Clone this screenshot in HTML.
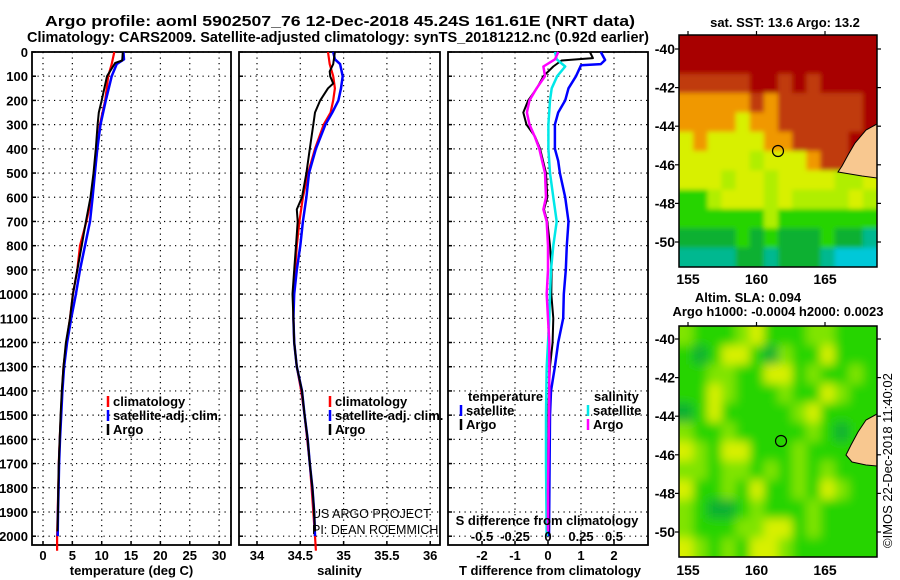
<!DOCTYPE html>
<html><head><meta charset="utf-8"><style>
html,body{margin:0;padding:0;background:#fff;}
svg{display:block;font-family:"Liberation Sans",sans-serif;}
.b{font-weight:bold;font-size:13px;}
</style></head><body>
<svg id="fig" width="900" height="580" viewBox="0 0 900 580" xmlns="http://www.w3.org/2000/svg">
<defs>
<filter id="blur2" x="-5%" y="-5%" width="110%" height="110%"><feGaussianBlur stdDeviation="2.5"/></filter>
<filter id="blur4" x="-5%" y="-5%" width="110%" height="110%"><feGaussianBlur stdDeviation="5"/></filter>
</defs>
<text x="340" y="26" text-anchor="middle" font-weight="bold" font-size="15" textLength="590" lengthAdjust="spacingAndGlyphs">Argo profile: aoml 5902507_76 12-Dec-2018 45.24S 161.61E (NRT data)</text>
<text x="338" y="42" text-anchor="middle" font-weight="bold" font-size="15" textLength="622" lengthAdjust="spacingAndGlyphs">Climatology: CARS2009. Satellite-adjusted climatology: synTS_20181212.nc (0.92d earlier)</text>
<g id="p1"></g>
<g id="p2"></g>
<g id="p3"></g>
<g id="m1"></g>
<g id="m2"></g>
<text x="785" y="27" text-anchor="middle" class="b">sat. SST: 13.6 Argo: 13.2</text>
<text x="748" y="302" text-anchor="middle" class="b">Altim. SLA: 0.094</text>
<text x="778" y="316" text-anchor="middle" class="b">Argo h1000: -0.0004 h2000: 0.0023</text>
<text transform="translate(892,548) rotate(-90)" font-size="13">©IMOS 22-Dec-2018 11:40:02</text>
<text x="312" y="518" font-size="12.5">US ARGO PROJECT</text>
<text x="312" y="534" font-size="12.5">PI: DEAN ROEMMICH</text>
</svg>
<script>
// ---------- data ----------
const depthTicks=[0,100,200,300,400,500,600,700,800,900,1000,1100,1200,1300,1400,1500,1600,1700,1800,1900,2000];
const tTicks=[0,5,10,15,20,25,30];
const sTicks=[34,34.5,35,35.5,36];
const sTickLabels=["34","34.5","35","35.5","36"];
const dtTicks=[-2,-1,0,1,2];
const dsTicks=[-0.5,-0.25,0,0.25,0.5];
const dsTickLabels=["-0.5","-0.25","0","0.25","0.5"];

const tempArgoDepth=[0,35,45,100,200,250,300,400,500,600,700,800,900,1000,1100,1200,1300,1400,1500,1600,1700,1800,1900,1980];
const tempArgo=[13.6,13.5,12.3,10.9,10.0,9.5,9.3,9.0,8.6,8.1,7.3,6.6,5.85,5.1,4.6,3.9,3.5,3.2,3.0,2.85,2.7,2.6,2.55,2.45];
const tempClimDepth=[0,50,100,200,300,400,500,600,700,800,900,1000,1100,1200,1300,1400,1500,1600,1700,1800,1900,2000,2060];
const tempClim=[12.15,11.7,11.1,10.6,9.7,9.25,8.8,8.3,7.4,6.3,5.85,5.1,4.6,4.0,3.5,3.25,3.05,2.85,2.7,2.6,2.5,2.4,2.4];
const tempSatDepth=[0,30,50,100,200,300,400,500,600,700,800,900,1000,1100,1200,1300,1400,1500,1600,1700,1800,1900,2000];
const tempSat=[13.7,13.8,12.55,11.7,10.7,9.8,9.25,8.85,8.45,8.0,7.15,6.3,5.6,4.8,4.1,3.6,3.3,3.1,2.9,2.75,2.65,2.55,2.5];

const salArgoDepth=[0,50,80,100,130,150,200,250,300,400,500,600,650,700,800,900,1000,1100,1200,1300,1400,1500,1600,1700,1800,1900,1980];
const salArgo=[34.90,34.88,34.84,34.845,34.88,34.82,34.73,34.67,34.65,34.61,34.57,34.52,34.46,34.47,34.45,34.43,34.41,34.42,34.43,34.46,34.52,34.55,34.585,34.61,34.64,34.66,34.67];
const salClimDepth=[0,50,100,150,200,250,300,400,500,600,700,800,900,1000,1100,1200,1300,1400,1500,1600,1700,1800,1900,2000,2060];
const salClim=[34.82,34.84,34.88,34.90,34.88,34.85,34.77,34.67,34.59,34.53,34.49,34.46,34.44,34.42,34.42,34.43,34.46,34.51,34.55,34.58,34.61,34.63,34.65,34.67,34.68];
const salSatDepth=[0,30,50,100,150,200,250,300,400,500,600,700,800,900,1000,1100,1200,1300,1400,1500,1600,1700,1800,1900,2000];
const salSat=[34.88,34.90,34.96,34.99,34.97,34.94,34.87,34.79,34.68,34.60,34.57,34.53,34.50,34.46,34.43,34.42,34.43,34.46,34.52,34.55,34.585,34.61,34.64,34.66,34.67];

const dTSatDepth=[0,33,50,55,100,150,200,250,300,400,450,500,600,700,800,900,1000,1100,1200,1300,1400,1500,1700,2000];
const dTSat=[1.6,1.73,1.6,1.0,0.85,0.62,0.52,0.31,0.21,0.21,0.31,0.36,0.52,0.62,0.57,0.54,0.48,0.46,0.31,0.21,0.09,0.06,0.05,0.03];
const dTArgoDepth=[0,25,35,60,100,150,200,250,300,350,400,500,600,650,700,800,900,1000,1100,1200,1300,1400,1500,1700,1980];
const dTArgo=[1.27,1.36,0.41,0.16,-0.14,-0.34,-0.6,-0.75,-0.65,-0.39,-0.24,-0.06,-0.02,-0.12,-0.02,0.06,0.11,0.1,0.16,0.14,0.06,0.03,0.01,0.0,0.02];
const dSSatDepth=[0,30,60,100,150,200,300,400,500,600,700,800,900,1000,1100,1300,1500,1700,2000];
const dSSat=[0.053,0.066,0.13,0.07,0.028,0.015,0.003,0.003,0.015,0.04,0.066,0.04,0.023,0.015,0.01,-0.01,-0.015,-0.015,-0.01];
const dSArgoDepth=[0,30,60,100,150,200,250,300,350,400,500,600,650,700,800,900,1000,1200,1400,1600,1800,1980];
const dSArgo=[0.078,0.053,-0.035,-0.023,-0.086,-0.14,-0.16,-0.14,-0.1,-0.066,-0.023,-0.015,-0.035,-0.01,0,0,-0.01,0.01,0.01,0.005,0.0,0.0];

const mapLonTicks=[155,160,165];
const mapLatTicks=[-40,-42,-44,-46,-48,-50];
const sstRows=[
"RRRRRRRRRRRRRR",
"RRRRRRRRRRRRRR",
"BBBBBRRBRBRRRR",
"OOOOOBOBBBBBBR",
"OOOOYOOBBBBBBR",
"YOYYYYOOBBBBRR",
"YYYYYgYYYOBBRR",
"YYYgYYgYYYYggY",
"GGgYYYgYggggYg",
"GGGGGGgGGGGGGG",
"DDDDGDGDDDGDDT",
"TTTTDDTDDDTCCC"];
const slaRows=[
"MGGGMYGGGMMGGG",
"GDGYYGDMGGYGGG",
"GGMMGGYYGMGGMG",
"GGYMGGGMGGYMGG",
"DGYGGGGGMYGGGG",
"MGGMGGGGGMGDGG",
"YMGYYGGGMGGGGG",
"MMGMMGMGMGMGGG",
"YGGMGYGGMGYMGG",
"MGDDGMGGGMGGGG",
"MGGGMMYYGMGGGG",
"YMGMGYYMGGGGGG"];
const colors={R:"#a80000",B:"#c03a08",O:"#f09800",Y:"#d8f000",g:"#b0ee00",G:"#28d400",D:"#10b030",T:"#00b890",C:"#00c8d8",M:"#80e400"};

// ---------- helpers ----------
const NS="http://www.w3.org/2000/svg";
function mk(parent,tag,attrs,text){const e=document.createElementNS(NS,tag);for(const k in attrs)e.setAttribute(k,attrs[k]);if(text!==undefined)e.textContent=text;parent.appendChild(e);return e;}
const top0=52,bot=545;
const yD=d=>top0+d*0.2421;

function panel(g,x0,x1,xs,ticks,labels,xTitle,showY,xName){
  ticks.forEach(t=>{const l=mk(g,"line",{x1:xs(t),x2:xs(t),y1:top0,y2:bot,stroke:"#000","stroke-width":1.2,"stroke-dasharray":"1.2 4.3"});
    });
  depthTicks.forEach(d=>{const l=mk(g,"line",{x1:x0,x2:x1,y1:yD(d),y2:yD(d),stroke:"#000","stroke-width":1.2,"stroke-dasharray":"1.2 4.3"});
    
    const tk=mk(g,"line",{x1:x0,x2:x0+4,y1:yD(d),y2:yD(d),stroke:"#000","stroke-width":1.5});
    
    if(showY){const t=mk(g,"text",{x:28,y:yD(d)+5,"text-anchor":"end",class:"b"},String(d));
      }});
  const r=mk(g,"rect",{x:x0,y:top0,width:x1-x0,height:bot-top0,fill:"none",stroke:"#000","stroke-width":1.8});
  
  ticks.forEach((t,i)=>{const tk=mk(g,"line",{x1:xs(t),x2:xs(t),y1:bot,y2:bot-4,stroke:"#000","stroke-width":1.5});
    
    const tl=mk(g,"text",{x:xs(t),y:560,"text-anchor":"middle",class:"b"},labels[i]);
    });
  const at=mk(g,"text",{x:(x0+x1)/2+(xTitle.length>20?2:0),y:575,"text-anchor":"middle",class:"b"},xTitle);
  
}
function series(g,xs,depths,vals,color,w,name){
  const pts=depths.map((d,i)=>xs(vals[i]).toFixed(1)+","+yD(d).toFixed(1)).join(" ");
  const p=mk(g,"polyline",{points:pts,fill:"none",stroke:color,"stroke-width":w,"stroke-linejoin":"round"});
  
}
function legend(g,x,y,color,label,name){
  const l=mk(g,"line",{x1:x,x2:x,y1:y-10,y2:y+1,stroke:color,"stroke-width":2.5});
  
  if(label){const t=mk(g,"text",{x:x+5,y:y,class:"b"},label);
  }
}

const p1=document.getElementById("p1");
const xT=v=>43+v*5.87;
panel(p1,32,231,xT,tTicks,tTicks.map(String),"temperature (deg C)",true,"temperature");
series(p1,xT,tempClimDepth,tempClim,"#f00",2.2,"temperature-climatology-line");
series(p1,xT,tempSatDepth,tempSat,"#00f",2.5,"temperature-satellite-line");
series(p1,xT,tempArgoDepth,tempArgo,"#000",2,"temperature-argo-line");
legend(p1,108,406,"#f00","climatology","climatology");
legend(p1,108,420,"#00f","satellite-adj. clim.","satellite-adj");
legend(p1,108,434,"#000","Argo","argo");

const p2=document.getElementById("p2");
const xS=v=>257+(v-34)*86.6;
panel(p2,239,440,xS,sTicks,sTickLabels,"salinity",false,"salinity");
series(p2,xS,salClimDepth,salClim,"#f00",2.2,"salinity-climatology-line");
series(p2,xS,salSatDepth,salSat,"#00f",2.5,"salinity-satellite-line");
series(p2,xS,salArgoDepth,salArgo,"#000",2,"salinity-argo-line");
legend(p2,330,406,"#f00","climatology","sal-climatology");
legend(p2,330,420,"#00f","satellite-adj. clim.","sal-satellite-adj");
legend(p2,330,434,"#000","Argo","sal-argo");

const p3=document.getElementById("p3");
const xDT=v=>548+v*33;
const xDS=v=>548+v*132;
panel(p3,448,648,xDT,dtTicks,dtTicks.map(String),"T difference from climatology",false,"t-difference");
series(p3,xDT,dTSatDepth,dTSat,"#00f",2.5,"t-diff-satellite-line");
series(p3,xDT,dTArgoDepth,dTArgo,"#000",2,"t-diff-argo-line");
series(p3,xDS,dSSatDepth,dSSat,"#00e8e8",2.5,"s-diff-satellite-line");
series(p3,xDS,dSArgoDepth,dSArgo,"#f0f",2.5,"s-diff-argo-line");
{const t=mk(p3,"text",{x:468,y:401,class:"b"},"temperature");
 const s=mk(p3,"text",{x:594,y:401,class:"b"},"salinity");}
legend(p3,461,415,"#00f","satellite","t-satellite");
legend(p3,461,429,"#000","Argo","t-argo");
legend(p3,588,415,"#00e8e8","satellite","s-satellite");
legend(p3,588,429,"#f0f","Argo","s-argo");
{const t=mk(p3,"text",{x:547,y:525,"text-anchor":"middle",class:"b"},"S difference from climatology");
 }
dsTicks.forEach((v,i)=>{const t=mk(p3,"text",{x:xDS(v),y:541,"text-anchor":"middle",class:"b"},dsTickLabels[i]);
  });

function drawMap(g,y0,y1,rows,lat40,lat50,lonLabelY,land,circ,name,filt){
  const x0=679,x1=877;
  const n=rows[0].length,m=rows.length;
  const cw=(x1-x0)/n,ch=(y1-y0)/m;
  const clip=mk(g,"clipPath",{id:name+"-clip"});mk(clip,"rect",{x:x0,y:y0,width:x1-x0,height:y1-y0});
  const cg=mk(g,"g",{"clip-path":"url(#"+name+"-clip)"});
  const bg=mk(cg,"g",{filter:"url(#"+filt+")"});
  rows.forEach((row,r)=>{[...row].forEach((c,k)=>{
    let x=x0+k*cw,y=y0+r*ch,w=cw+0.6,h=ch+0.6;
    if(k===0){x-=12;w+=12;} if(k===n-1){w+=12;}
    if(r===0){y-=12;h+=12;} if(r===m-1){h+=12;}
    const cell=mk(bg,"rect",{x:x.toFixed(1),y:y.toFixed(1),width:w.toFixed(1),height:h.toFixed(1),fill:colors[c]});
    });});
  const ld=mk(cg,"polygon",{points:land,fill:"#f8c890",stroke:"#000","stroke-width":1});
  
  const ci=mk(g,"circle",{cx:circ[0],cy:circ[1],r:5.5,fill:"none",stroke:"#000","stroke-width":1.2});
  
  const fr=mk(g,"rect",{x:x0,y:y0,width:x1-x0,height:y1-y0,fill:"none",stroke:"#000","stroke-width":1.5});
  
  const lonX=v=>688+(v-155)*13.7;
  const latY=v=>lat40+(v+40)/(-10)*(lat50-lat40);
  mapLonTicks.forEach(v=>{const tk=mk(g,"line",{x1:lonX(v),x2:lonX(v),y1:y0,y2:y0-4,stroke:"#000","stroke-width":1.2});
    
    const t=mk(g,"text",{x:lonX(v),y:lonLabelY,"text-anchor":"middle",class:"b",style:"font-size:14px"},String(v));
    });
  mapLatTicks.forEach(v=>{const tk=mk(g,"line",{x1:x1,x2:x1+4,y1:latY(v),y2:latY(v),stroke:"#000","stroke-width":1.2});
    
    const tk2=mk(g,"line",{x1:x0-4,x2:x0,y1:latY(v),y2:latY(v),stroke:"#000","stroke-width":1.2});
    
    const t=mk(g,"text",{x:675,y:latY(v)+5,"text-anchor":"end",class:"b",style:"font-size:14px"},String(v));
    });
}
drawMap(document.getElementById("m1"),35,267,sstRows,49,242,284,
 "877,124 866,130 855,143 848,155 842,166 838,172 850,174 862,176 877,178",[778,151],"sst","blur2");
drawMap(document.getElementById("m2"),326,557,slaRows,339,532,575,
 "877,414 866,420 858,432 851,445 846,455 852,462 866,465 877,466",[781,441],"sla","blur4");
</script>
</body></html>
